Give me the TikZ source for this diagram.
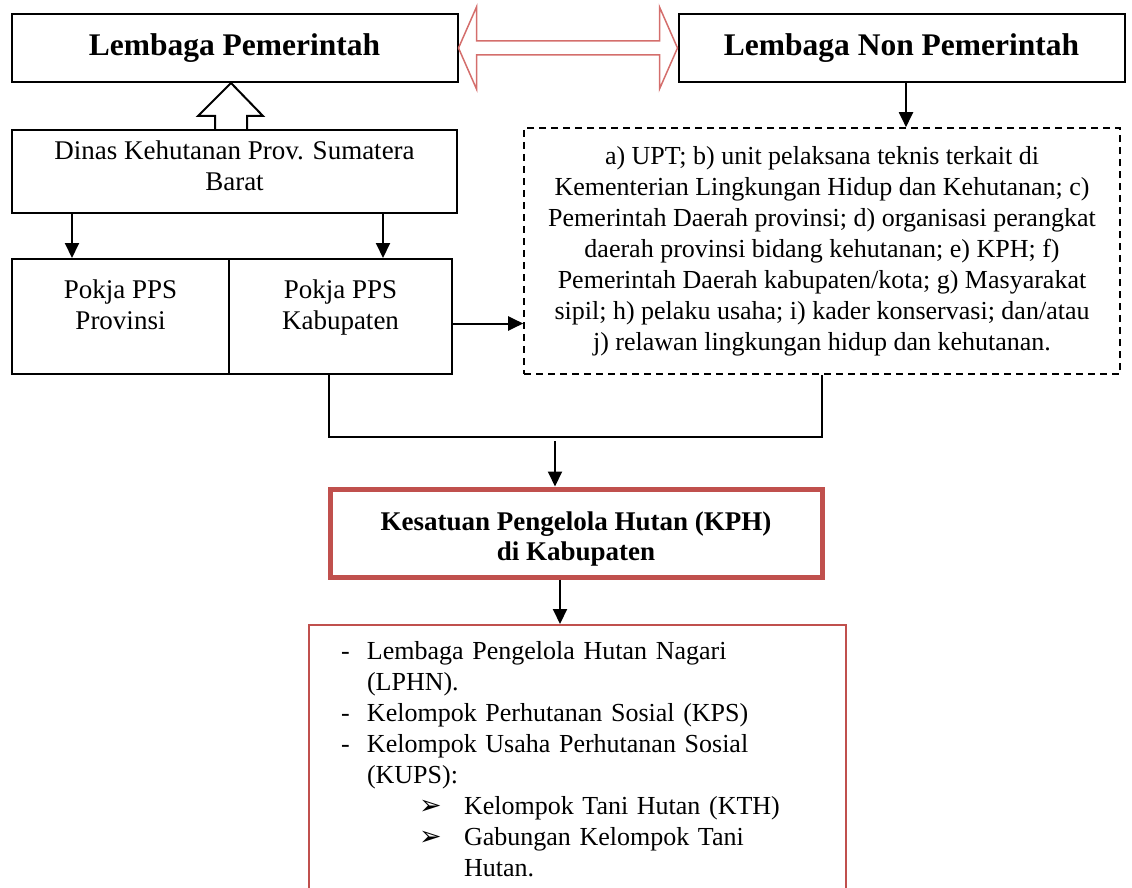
\documentclass[tikz,border=0pt]{standalone}
\usepackage{fontspec}
\setmainfont{Liberation Serif}
\newfontfamily\dingfont{DejaVu Sans}
\usepackage{tikz}
\usetikzlibrary{calc}
\usetikzlibrary{arrows.meta}
\usetikzlibrary{positioning}
\definecolor{indianred}{RGB}{192, 80, 77}
\definecolor{softred}{RGB}{212, 110, 108}
\newcommand{\arrowmark}{{\dingfont\fontsize{27}{31}\selectfont ➢}}
\newcommand{\lowpad}[1]{\rule[-#1]{0pt}{1pt}}

\begin{document}
\begin{tikzpicture}[x=1pt, y=-1pt,
        body/.style     = {font=\fontsize{26}{31}\selectfont},
        wide/.style     = {font=\fontsize{27}{31}\selectfont},
        headbox/.style  = {draw, line width=2pt, minimum width=446pt, minimum height=68pt,
                           font=\fontsize{31.5}{36}\selectfont\bfseries},
        plainbox/.style = {draw, line width=2pt, align=center, inner sep=0pt, wide},
        dashbox/.style  = {draw, line width=1.6pt, dash pattern=on 7pt off 5pt, align=center, inner sep=0pt, body},
        kphbox/.style   = {draw=indianred, line width=5pt, align=center, inner sep=0pt,
                           font=\fontsize{27}{30}\selectfont\bfseries},
        listbox/.style  = {draw=indianred, line width=2pt, align=left, inner xsep=32pt, inner ysep=0pt, body},
        arr/.style      = {line width=2pt, -{Triangle[length=15pt, width=14pt]}},
        link/.style     = {line width=2pt},
        hollow/.style   = {line width=2pt, line join=miter},
        twoway/.style   = {draw=softred, line width=1.5pt, line join=miter}
    ]
    \useasboundingbox (0,0) rectangle (1132,888);

    % upper row
    \node[headbox] (lp)  at (234.5,48) {Lembaga Pemerintah};
    \node[headbox] (lnp) at (901.5,48) {Lembaga Non Pemerintah};

    % left column
    \node[plainbox, minimum width=445pt, minimum height=83pt] (dinas) at (234.5,171.5)
        {Dinas Kehutanan Prov. Sumatera\\Barat\lowpad{12pt}};
    \node[plainbox, minimum width=217pt, minimum height=115pt] (prov) at (120.5,316.5)
        {Pokja PPS\\Provinsi\lowpad{24pt}};
    \node[plainbox, minimum width=223pt, minimum height=115pt] (kab)  at (340.5,316.5)
        {Pokja PPS\\Kabupaten\lowpad{24pt}};

    % right column
    \node[dashbox, minimum width=596pt, minimum height=246pt] (upt) at (822,251)
        {a) UPT; b) unit pelaksana teknis terkait di\\
         Kementerian Lingkungan Hidup dan Kehutanan; c)\\
         Pemerintah Daerah provinsi; d) organisasi perangkat\\
         daerah provinsi bidang kehutanan; e) KPH; f)\\
         Pemerintah Daerah kabupaten/kota; g) Masyarakat\\
         sipil; h) pelaku usaha; i) kader konservasi; dan/atau\\
         j) relawan lingkungan hidup dan kehutanan.};

    % KPH and the groups below it
    \node[kphbox, minimum width=492pt, minimum height=88pt] (kph) at (576,533)
        {\rule{0pt}{30pt}Kesatuan Pengelola Hutan (KPH)\\di Kabupaten};
    \node[listbox, anchor=north west, minimum width=537pt, minimum height=268pt, text width=473pt] (lphn) at (308,624)
        {\makebox[26pt][l]{-}Lembaga Pengelola Hutan Nagari\\
         \hspace*{26pt}(LPHN).\\
         \makebox[26pt][l]{-}Kelompok Perhutanan Sosial (KPS)\\
         \makebox[26pt][l]{-}Kelompok Usaha Perhutanan Sosial\\
         \hspace*{26pt}(KUPS):\\
         \hspace*{78pt}\makebox[45pt][l]{\arrowmark}Kelompok Tani Hutan (KTH)\\
         \hspace*{78pt}\makebox[45pt][l]{\arrowmark}Gabungan Kelompok Tani\\
         \hspace*{123pt}Hutan.};

    % arrows
    \draw[twoway] (lp.east) -- ++(18,-41) -- ++(0,34) -- ($(lnp.west)+(-18,-7)$) -- ++(0,-34)
        -- (lnp.west) -- ++(-18,41) -- ++(0,-34) -- ($(lp.east)+(18,7)$) -- ++(0,34) -- cycle;
    \draw[hollow] ([xshift=-19.5pt]dinas.north) -- ++(0,-13) -- ++(-17,0) -- ++(33,-33)
        -- ++(32,33) -- ++(-16,0) -- ([xshift=12.5pt]dinas.north);
    \draw[arr] ([xshift=-162.5pt]dinas.south) -- ([xshift=-162.5pt]dinas.south |- prov.north);
    \draw[arr] ([xshift=148.5pt]dinas.south) -- ([xshift=148.5pt]dinas.south |- kab.north);
    \draw[arr] ([xshift=4.5pt]lnp.south) -- ([xshift=4.5pt]lnp.south |- upt.north);
    \draw[arr] ([yshift=-7pt]kab.east) -- ([yshift=-7pt]kab.east -| upt.west);
    \coordinate (join) at (555,437);
    \draw[link] ([xshift=-11.5pt]kab.south) -- ([xshift=-11.5pt]kab.south |- join) -| (upt.south);
    \draw[arr] (join) ++(0,4) -- (join |- kph.north);
    \draw[arr] ([xshift=-16pt]kph.south) -- ([xshift=-16pt]kph.south |- lphn.north);
\end{tikzpicture}
\end{document}
